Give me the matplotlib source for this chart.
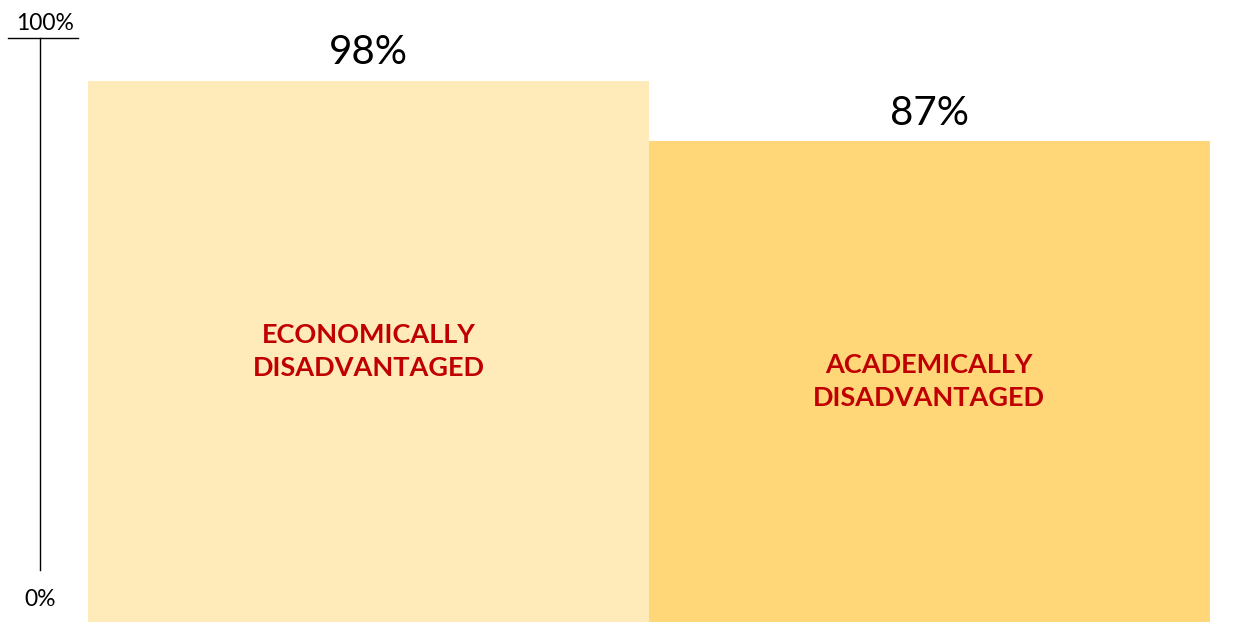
import matplotlib.pyplot as plt

categories = ["ECONOMICALLY\nDISADVANTAGED", "ACADEMICALLY\nDISADVANTAGED"]
values = [98, 87]
value_labels = ["98%", "87%"]
colors = ["#FFEBB9", "#FFD778"]

plt.rcParams['font.family'] = ['Lato', 'DejaVu Sans']

fig = plt.figure(figsize=(12.35, 6.22), dpi=100)
ax = fig.add_axes([0, 0, 1, 1])
ax.set_xlim(-0.657, 1.545)
ax.set_ylim(0, 112.6)
ax.axis('off')

x = range(len(values))
bars = ax.bar(x, values, width=1.0, color=colors, linewidth=0)

for i, b in enumerate(bars):
    cx = b.get_x() + b.get_width() / 2
    ax.annotate(value_labels[i], (cx, b.get_height()), xytext=(0, 12),
                textcoords='offset points', ha='center', va='baseline', fontsize=29)
    ax.text(cx, b.get_height() / 2, categories[i], ha='center', va='center',
            fontsize=19.5, fontweight='bold', color='#C00000', linespacing=1.45)

# axis marker on the left
ax.plot([40 / 1235, 40 / 1235], [1 - 38 / 622, 1 - 570 / 622], color='black',
        lw=1, transform=ax.transAxes)
ax.plot([8 / 1235, 78 / 1235], [1 - 38 / 622, 1 - 38 / 622], color='black',
        lw=1, transform=ax.transAxes)
ax.text(45 / 1235, 1 - 24 / 622, "100%", transform=ax.transAxes,
        ha='center', va='center', fontsize=16.5)
ax.text(40 / 1235, 1 - 599 / 622, "0%", transform=ax.transAxes,
        ha='center', va='center', fontsize=16.5)

fig.savefig("out.png", dpi=100)
